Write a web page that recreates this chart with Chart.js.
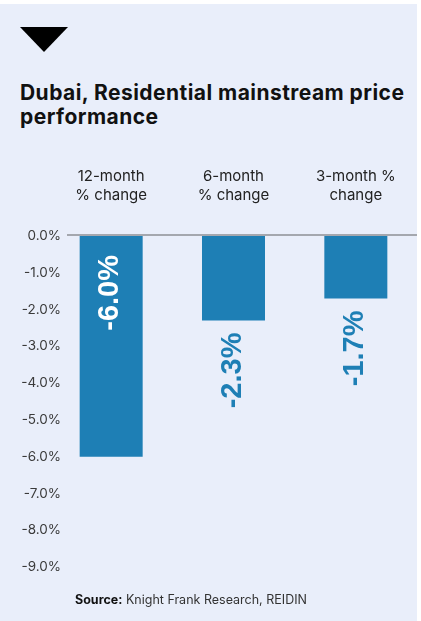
<!DOCTYPE html>
<html>
<head>
<meta charset="utf-8">
<script src="https://cdn.jsdelivr.net/npm/chart.js@4/dist/chart.umd.min.js"></script>
<style>
  html, body { margin: 0; padding: 0; background: #ffffff; }
  #wrap { position: relative; width: 421px; height: 621px; overflow: hidden; }
  #panel { position: absolute; left: 0; top: 4px; width: 417px; height: 617px; background: #e9eefa; }
  #marker { position: absolute; left: 20px; top: 27px; width: 0; height: 0;
    border-left: 24px solid transparent; border-right: 24px solid transparent; border-top: 25px solid #000; }
  #title { position: absolute; left: 20px; top: 81px; margin: 0; font: 700 21px/24px Inter, "Liberation Sans", sans-serif;
    color: #111; letter-spacing: 0.45px; }
  #source { position: absolute; left: 75px; top: 592px; font: 400 12.5px/16px Inter, "Liberation Sans", sans-serif;
    color: #333; white-space: nowrap; }
  #source b { color: #111; font-weight: 700; }
  canvas { position: absolute; left: 0; top: 0; }
</style>
</head>
<body>
<div id="wrap">
  <div id="panel"></div>
  <div id="marker"></div>
  <h1 id="title">Dubai, Residential mainstream price<br>performance</h1>
  <canvas id="chart" width="421" height="621"></canvas>
  <div id="source"><b>Source:</b> Knight Frank Research, REIDIN</div>
</div>
<script>
// Periods shown across the top, each split over two lines
const categories = [
  ["12-month", "% change"],
  ["6-month", "% change"],
  ["3-month %", "change"]
];
// Price change per period, in percent
const priceChange = [-6.0, -2.3, -1.7];
// Value axis range and step, in percent
const yMin = -9;
const yMax = 0;
const yStep = 1;

const barBlue = "#1e7fb5";

const fmtPct = v => v.toFixed(1) + "%";

// Zero baseline that runs from just right of the tick labels to the panel edge
const zeroLine = {
  id: "zeroLine",
  beforeDatasetsDraw(chart) {
    const y0 = chart.scales.y.getPixelForValue(0);
    const ctx = chart.ctx;
    ctx.save();
    ctx.fillStyle = "#a4a7ae";
    ctx.fillRect(67, Math.round(y0) - 2, 350, 2);
    ctx.restore();
  }
};

// The category band spans from under the tick labels to the panel edge
const categoryBand = {
  id: "categoryBand",
  afterLayout(chart) {
    const x = chart.scales.x;
    x.left = 50;
    x.right = 417;
    x.width = x.right - x.left;
    x.configure();
  }
};

// Vertical value labels: inside the bar when it is long, below it otherwise
const barValues = {
  id: "barValues",
  afterDatasetsDraw(chart) {
    const ctx = chart.ctx;
    const meta = chart.getDatasetMeta(0);
    const data = chart.data.datasets[0].data;
    ctx.save();
    ctx.font = "700 29px 'Liberation Sans', Arial, sans-serif";
    ctx.textBaseline = "middle";
    ctx.textAlign = "right";
    meta.data.forEach((bar, i) => {
      const v = data[i];
      const inside = v <= -4;
      const anchorY = inside ? bar.base + 19 : bar.y + 12;
      ctx.fillStyle = inside ? "#ffffff" : barBlue;
      ctx.save();
      ctx.translate(bar.x - 1, anchorY);
      ctx.rotate(-Math.PI / 2);
      ctx.fillText(fmtPct(v), 0, 0);
      ctx.restore();
    });
    ctx.restore();
  }
};

new Chart(document.getElementById("chart"), {
  type: "bar",
  data: {
    labels: categories,
    datasets: [{
      data: priceChange,
      backgroundColor: barBlue,
      borderWidth: 0,
      barPercentage: 0.515,
      categoryPercentage: 1
    }]
  },
  options: {
    responsive: false,
    devicePixelRatio: 1,
    animation: false,
    events: [],
    layout: { padding: { top: 151, bottom: 54, left: 0, right: 4 } },
    plugins: { legend: { display: false }, tooltip: { enabled: false }, title: { display: false } },
    scales: {
      x: {
        position: "top",
        grid: { display: false, drawTicks: false },
        border: { display: false },
        afterFit: s => { s.height = 85; },
        ticks: {
          padding: 31,
          maxRotation: 0,
          autoSkip: false,
          color: "#222",
          font: { family: "Inter, 'Liberation Sans', sans-serif", size: 15, lineHeight: 1.27 }
        }
      },
      y: {
        min: yMin,
        max: yMax,
        grid: { display: false, drawTicks: false },
        border: { display: false },
        afterFit: s => { s.width = 61; },
        ticks: {
          stepSize: yStep,
          padding: 0,
          color: "#3a3a3a",
          font: { family: "Inter, 'Liberation Sans', sans-serif", size: 13.5 },
          callback: v => fmtPct(v)
        }
      }
    }
  },
  plugins: [categoryBand, zeroLine, barValues]
});
</script>
</body>
</html>
